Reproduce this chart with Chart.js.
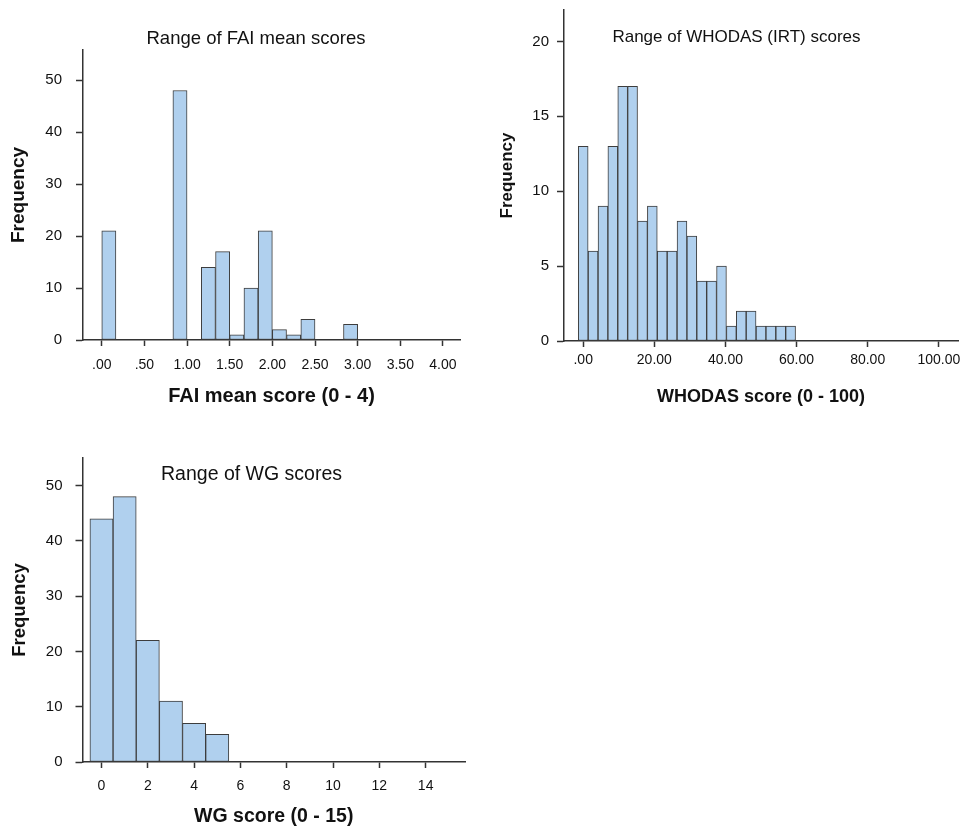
<!DOCTYPE html>
<html><head><meta charset="utf-8">
<script src="https://cdn.jsdelivr.net/npm/chart.js@4.4.1/dist/chart.umd.min.js"></script>
<style>
html,body{margin:0;padding:0;background:#fff;}
body{width:961px;height:828px;position:relative;overflow:hidden;}
.box{position:absolute;}
</style></head><body>
<div class="box" style="left:0;top:0;width:480px;height:420px"><canvas id="c1"></canvas></div>
<div class="box" style="left:480px;top:0;width:481px;height:420px"><canvas id="c2"></canvas></div>
<div class="box" style="left:0;top:420px;width:480px;height:408px"><canvas id="c3"></canvas></div>
<script>
// ---- FAI mean scores (bins of width 1/6) ----
const faiBinCenters = [0.083, 0.917, 1.250, 1.417, 1.583, 1.750, 1.917, 2.083, 2.250, 2.417, 2.917];
const faiCounts     = [21, 48, 14, 17, 1, 10, 21, 2, 1, 4, 3];
const faiXTickValues = [0, 0.5, 1, 1.5, 2, 2.5, 3, 3.5, 4];
const faiXTickLabels = ['.00', '.50', '1.00', '1.50', '2.00', '2.50', '3.00', '3.50', '4.00'];
const faiYTickValues = [0, 10, 20, 30, 40, 50];

// ---- WHODAS (IRT) scores ----
const whoBinCenters = [0.00, 2.78, 5.56, 8.33, 11.11, 13.89, 16.67, 19.44, 22.22, 25.00, 27.78,
                       30.56, 33.33, 36.11, 38.89, 41.67, 44.44, 47.22, 50.00, 52.78, 55.56, 58.33];
const whoCounts     = [13, 6, 9, 13, 17, 17, 8, 9, 6, 6, 8, 7, 4, 4, 5, 1, 2, 2, 1, 1, 1, 1];
const whoXTickValues = [0, 20, 40, 60, 80, 100];
const whoXTickLabels = ['.00', '20.00', '40.00', '60.00', '80.00', '100.00'];
const whoYTickValues = [0, 5, 10, 15, 20];

// ---- WG scores ----
const wgBinCenters = [0, 1, 2, 3, 4, 5];
const wgCounts     = [44, 48, 22, 11, 7, 5];
const wgXTickValues = [0, 2, 4, 6, 8, 10, 12, 14];
const wgXTickLabels = ['0', '2', '4', '6', '8', '10', '12', '14'];
const wgYTickValues = [0, 10, 20, 30, 40, 50];

Chart.defaults.font.family = "'Liberation Sans', Arial, sans-serif";
Chart.defaults.color = '#111';

const innerTitle = {
  id: 'innerTitle',
  afterDraw(chart, args, opts) {
    const ctx = chart.ctx;
    ctx.save();
    ctx.font = opts.font;
    ctx.fillStyle = '#111';
    ctx.textAlign = 'center';
    ctx.textBaseline = 'alphabetic';
    ctx.fillText(opts.text, opts.x, opts.y);
    ctx.restore();
  }
};

function makeHist(id, c) {
  const axisColor = '#333';
  return new Chart(document.getElementById(id), {
    type: 'bar',
    data: {
      datasets: [{
        data: c.centers.map((x, i) => ({x: x, y: c.counts[i]})),
        backgroundColor: '#b0d0ee',
        borderColor: '#3d3d3d',
        borderWidth: 1,
        borderSkipped: false,
        categoryPercentage: 1,
        barPercentage: 1
      }]
    },
    options: {
      responsive: true,
      maintainAspectRatio: false,
      animation: false,
      layout: {padding: c.pad},
      plugins: {
        legend: {display: false},
        tooltip: {enabled: false},
        innerTitle: c.title
      },
      scales: {
        x: {
          type: 'linear',
          min: c.xmin, max: c.xmax,
          offset: false,
          afterBuildTicks: s => { s.ticks = c.xTicks.map(v => ({value: v})); },
          afterFit: s => { s.height = c.xH; s.paddingLeft = 0; s.paddingRight = 0; },
          grid: {display: true, drawOnChartArea: false, drawTicks: true, tickLength: 6,
                 tickColor: axisColor, tickWidth: 1.5, offset: false},
          border: {display: true, color: axisColor, width: 1.5},
          ticks: {autoSkip: false, maxRotation: 0, minRotation: 0, font: {size: 14},
                  color: '#111', padding: c.xPad,
                  callback: (v, i) => c.xLabels[i]},
          title: {display: true, text: c.xTitle, color: '#111',
                  font: {size: c.xTitleSize, weight: 'bold'},
                  padding: {top: 0, bottom: c.xTitlePad}}
        },
        y: {
          min: 0, max: c.ymax,
          afterBuildTicks: s => { s.ticks = c.yTicks.map(v => ({value: v})); },
          afterFit: s => { s.width = c.yW; s.paddingTop = 0; s.paddingBottom = 0; },
          grid: {display: true, drawOnChartArea: false, drawTicks: true, tickLength: 7,
                 tickColor: axisColor, tickWidth: 1.5},
          border: {display: true, color: axisColor, width: 1.5},
          ticks: {font: {size: 15}, color: '#111', padding: c.yPad,
                  callback: v => String(v)},
          title: {display: true, text: 'Frequency', color: '#111',
                  font: {size: c.yTitleSize, weight: 'bold'},
                  padding: {top: c.yTitlePad, bottom: 0}}
        }
      }
    },
    plugins: [innerTitle]
  });
}

makeHist('c1', {
  centers: faiBinCenters, counts: faiCounts,
  xTicks: faiXTickValues, xLabels: faiXTickLabels, yTicks: faiYTickValues,
  xmin: -0.22, xmax: 4.2, ymax: 55.8,
  pad: {top: 50, right: 20, left: 0, bottom: 0},
  xH: 80, yW: 83, xPad: 10.5, yPad: 14,
  xTitle: 'FAI mean score (0 - 4)', xTitleSize: 20, xTitlePad: 12,
  yTitleSize: 19, yTitlePad: 7.6,
  title: {text: 'Range of FAI mean scores', x: 256, y: 44, font: "18.5px 'Liberation Sans', Arial, sans-serif"}
});

makeHist('c2', {
  centers: whoBinCenters, counts: whoCounts,
  xTicks: whoXTickValues, xLabels: whoXTickLabels, yTicks: whoYTickValues,
  xmin: -5.4, xmax: 105.4, ymax: 22.1,
  pad: {top: 10, right: 3, left: 0, bottom: 0},
  xH: 79, yW: 84, xPad: 5, yPad: 8,
  xTitle: 'WHODAS score (0 - 100)', xTitleSize: 18, xTitlePad: 12,
  yTitleSize: 17, yTitlePad: 16.8,
  title: {text: 'Range of WHODAS (IRT) scores', x: 256.5, y: 41.5, font: "17px 'Liberation Sans', Arial, sans-serif"}
});

makeHist('c3', {
  centers: wgBinCenters, counts: wgCounts,
  xTicks: wgXTickValues, xLabels: wgXTickLabels, yTicks: wgYTickValues,
  xmin: -0.82, xmax: 15.7, ymax: 55,
  pad: {top: 38, right: 15, left: 0, bottom: 0},
  xH: 66, yW: 82.5, xPad: 10, yPad: 13,
  xTitle: 'WG score (0 - 15)', xTitleSize: 19.5, xTitlePad: 0,
  yTitleSize: 18.5, yTitlePad: 8.9,
  title: {text: 'Range of WG scores', x: 251.5, y: 60, font: "19.5px 'Liberation Sans', Arial, sans-serif"}
});
</script>
</body></html>
